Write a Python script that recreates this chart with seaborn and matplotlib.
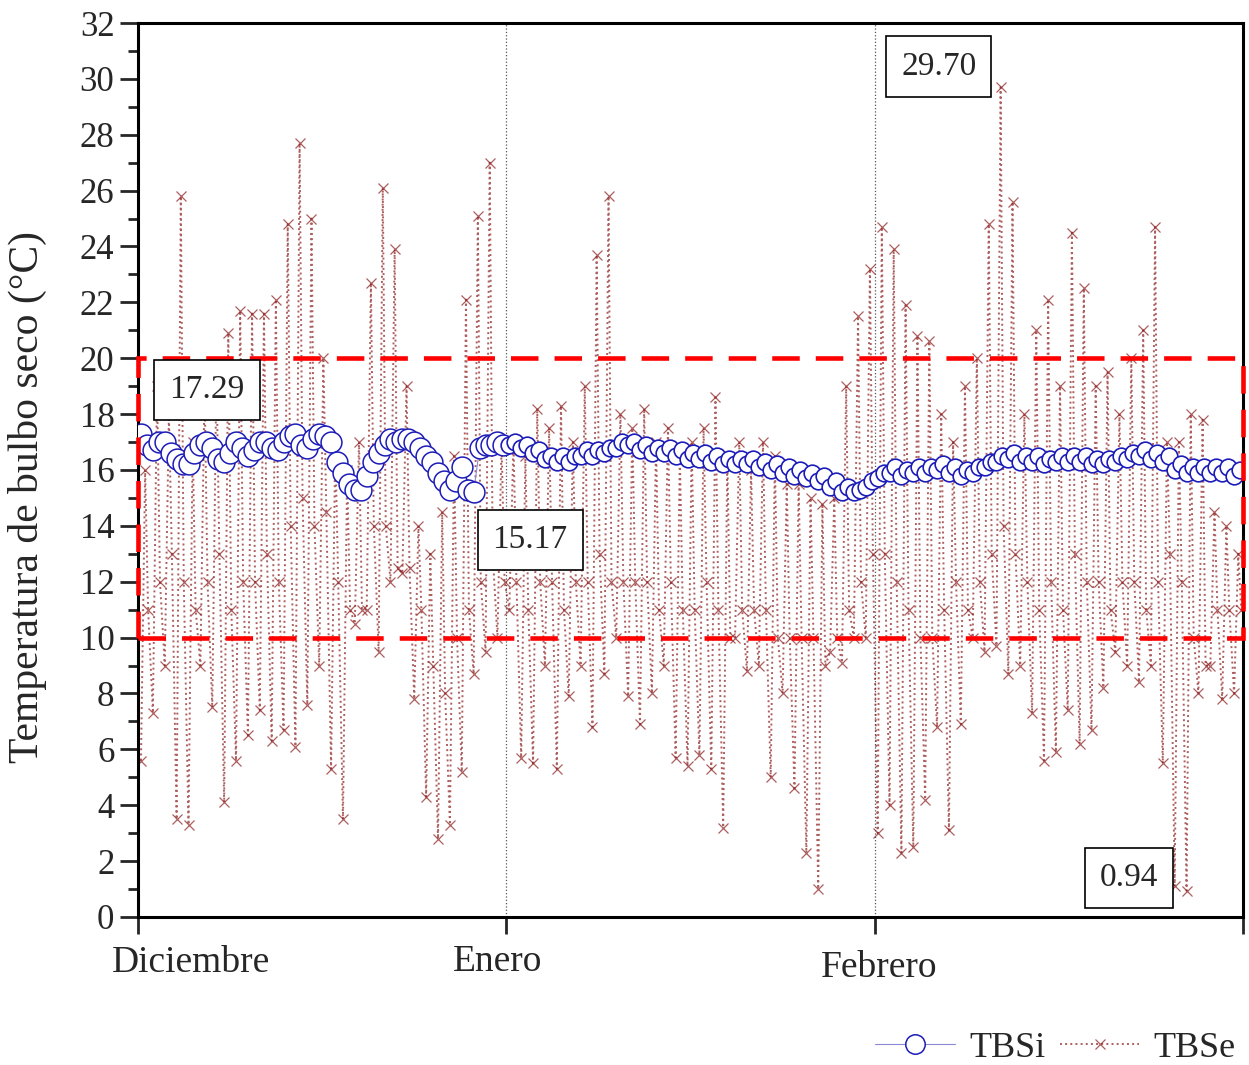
import numpy as np
import seaborn as sns
import matplotlib.pyplot as plt
from matplotlib.lines import Line2D
from matplotlib.patches import Rectangle
from matplotlib.ticker import MultipleLocator

# ---- data (x in days since 1 Dec) ----
months = ["Diciembre", "Enero", "Febrero"]
month_start = [0, 31, 62]
x_end = 93
comfort_low = 10
comfort_high = 20

# outdoor dry-bulb (TBSe): morning minimum, afternoon maximum, evening reading per day
tbse_min = [5.6, 7.3, 9.0, 3.5, 3.3, 9.0, 7.5, 4.1, 5.6, 6.5, 7.4, 6.3, 6.7, 6.1, 7.6, 9.0,
            5.3, 3.5, 10.5, 11.0, 9.5, 12.0, 12.3, 7.8, 4.3, 2.8, 3.3, 5.2, 8.7, 9.5, 10.0,
            11.0, 5.7, 5.5, 9.0, 5.3, 7.9, 9.0, 6.8, 8.7, 10.0, 7.9, 6.9, 8.0, 9.0, 5.7, 5.4,
            5.8, 5.3, 3.2, 10.0, 8.8, 9.0, 5.0, 8.0, 4.6, 2.3, 1.0, 9.5, 9.1, 10.0, 10.0,
            3.0, 4.0, 2.3, 2.5, 4.2, 6.8, 3.1, 6.9, 10.0, 9.5, 9.7, 8.7, 9.0, 7.3, 5.6, 5.9,
            7.4, 6.2, 6.7, 8.2, 9.5, 9.0, 8.4, 9.0, 5.5, 1.1, 0.94, 8.0, 9.0, 7.8, 8.0]
tbse_max = [16.0, 19.0, 18.0, 25.8, 17.0, 19.0, 19.5, 20.9, 21.7, 21.6, 21.6, 22.1, 24.8, 27.7,
            25.0, 20.0, 17.0, 16.0, 17.0, 22.7, 26.1, 23.9, 19.0, 14.0, 13.0, 14.5, 16.5, 22.1,
            25.1, 27.0, 17.0,
            17.0, 16.5, 18.2, 17.5, 18.3, 17.0, 19.0, 23.7, 25.8, 18.0, 17.5, 18.2, 17.0, 17.5,
            16.5, 17.0, 17.5, 18.6, 16.5, 17.0, 16.0, 17.0, 16.5, 15.5, 15.5, 15.0, 14.8, 15.0,
            19.0, 21.5, 23.2,
            24.7, 23.9, 21.9, 20.8, 20.6, 18.0, 17.0, 19.0, 20.0, 24.8, 29.7, 25.6, 18.0, 21.0,
            22.1, 19.0, 24.5, 22.5, 19.0, 19.5, 18.0, 20.0, 21.0, 24.7, 17.0, 17.0, 18.0, 17.8,
            14.5, 14.0, 13.0]
tbse_eve = [11, 12, 13, 12, 11, 12, 13, 11, 12, 12, 13, 12, 14, 15, 14, 14.5, 12, 11, 11, 14,
            14, 12.5, 12.5, 11, 9, 8, 10, 11, 12, 13, 12,
            12, 11, 12, 12, 11, 12, 12, 13, 12, 12, 12, 12, 11, 12, 11, 11, 12, 11, 10, 11, 11,
            11, 10, 10, 10, 10, 9, 10, 11, 12, 13,
            13, 12, 11, 10, 10, 11, 12, 11, 12, 13, 14, 13, 12, 11, 12, 11, 13, 12, 12, 11, 12,
            12, 11, 12, 13, 12, 10, 9, 11, 11, 11]

# indoor dry-bulb (TBSi): two readings per day
tbsi_dic = [17.3, 16.9, 16.7, 17.0, 17.0, 16.6, 16.4, 16.2, 16.2, 16.6, 16.9, 17.0, 16.8, 16.4,
            16.3, 16.6, 17.0, 16.8, 16.5, 16.7, 17.0, 17.0, 16.8, 16.7, 17.0, 17.2, 17.3, 16.9,
            16.8, 17.1, 17.3, 17.2, 17.0, 16.3, 15.9, 15.5, 15.3, 15.3, 15.8, 16.3, 16.6, 16.9,
            17.1, 17.0, 17.1, 17.1, 17.0, 16.8, 16.5, 16.3, 15.9, 15.6, 15.3, 15.6, 16.1, 15.3,
            15.2, 16.8, 16.9, 16.9, 17.0, 16.9]
tbsi_enefeb = [16.9, 17.0, 16.8, 16.9, 16.6, 16.7, 16.4, 16.5, 16.3, 16.5, 16.3, 16.5, 16.5, 16.7,
               16.5, 16.7, 16.6, 16.8, 16.8, 17.0, 16.9, 17.0, 16.7, 16.9, 16.6, 16.8, 16.6, 16.8,
               16.5, 16.7, 16.4, 16.6, 16.4, 16.6, 16.3, 16.5, 16.2, 16.4, 16.2, 16.4, 16.2, 16.4,
               16.1, 16.3, 16.0, 16.2, 15.9, 16.1, 15.8, 16.0, 15.7, 15.9, 15.6, 15.8, 15.4, 15.6,
               15.2, 15.4, 15.2, 15.3, 15.4, 15.6,
               15.7, 15.9, 15.9, 16.1, 15.8, 16.0, 15.9, 16.1, 15.9, 16.1, 16.0, 16.2, 15.9, 16.1,
               15.8, 16.0, 15.9, 16.1, 16.1, 16.3, 16.3, 16.5, 16.4, 16.6, 16.3, 16.5, 16.3, 16.5,
               16.2, 16.4, 16.3, 16.5, 16.3, 16.5, 16.3, 16.5, 16.2, 16.4, 16.2, 16.4, 16.3, 16.5,
               16.4, 16.6, 16.5, 16.7, 16.4, 16.6, 16.3, 16.5, 16.0, 16.2, 15.9, 16.1, 15.9, 16.1,
               15.9, 16.1, 15.9, 16.1, 15.8, 16.0]

boxed_values = ["17.29", "15.17", "29.70", "0.94"]

ylabel = "Temperatura de bulbo seco (°C)"


def main():
    sns.set_style("ticks")
    plt.rcParams["font.family"] = ["Liberation Serif", "DejaVu Serif"]

    fig = plt.figure(figsize=(12.49, 10.65), dpi=100)
    ax = fig.add_axes([0.1105, 0.139, 0.8847, 0.8394])

    red_brown = "#8b1a1a"
    blue = "#1c1cb8"
    light_blue = "#8a8ad6"

    # TBSe: time axis built from the day index
    days = np.arange(len(tbse_max))
    t_e = np.column_stack([days + 0.25, days + 0.6, days + 0.85]).ravel()
    v_e = np.column_stack([tbse_min, tbse_max, tbse_eve]).ravel()
    sns.lineplot(x=t_e, y=v_e, ax=ax, sort=False, estimator=None, color=red_brown,
                 linestyle=":", linewidth=1.4, marker="x", markersize=7,
                 markeredgecolor=red_brown, markeredgewidth=0.9, alpha=0.7, zorder=2)

    # TBSi
    d_dic = np.arange(len(tbsi_dic) // 2)
    t_dic = np.column_stack([d_dic + 0.25, d_dic + 0.75]).ravel()
    sns.lineplot(x=t_dic, y=tbsi_dic, ax=ax, sort=False, estimator=None, color=light_blue,
                 linewidth=0.8, marker="o", markersize=15, markerfacecolor="white",
                 markeredgecolor=blue, markeredgewidth=1.1, zorder=3)
    d_ef = np.arange(len(tbsi_enefeb) // 2) + 31
    t_ef = np.column_stack([d_ef + 0.25, d_ef + 0.75]).ravel()
    sns.lineplot(x=t_ef, y=tbsi_enefeb, ax=ax, sort=False, estimator=None, color=light_blue,
                 linewidth=0.8, marker="o", markersize=12, markerfacecolor="white",
                 markeredgecolor=blue, markeredgewidth=1.2, zorder=3)

    # month separators
    for m in month_start[1:]:
        ax.axvline(m, color="#555555", linestyle=":", linewidth=0.9, zorder=1)

    # comfort band
    ax.add_patch(Rectangle((0, comfort_low), x_end, comfort_high - comfort_low, fill=False,
                           edgecolor="red", linewidth=3.3, linestyle=(0, (6, 3.5)),
                           zorder=5, clip_on=False))

    # boxed extreme values
    box = dict(boxstyle="square,pad=0.45", facecolor="white", edgecolor="black", linewidth=1.2)
    ann_pos = [(5.8, 18.86), (33.0, 13.5), (67.4, 30.45), (83.4, 1.4)]
    for txt, (x, y) in zip(boxed_values, ann_pos):
        ax.text(x, y, txt, ha="center", va="center", fontsize=24, bbox=box, zorder=6)

    ax.set_xlim(0, x_end)
    ax.set_ylim(0, 32)
    ax.yaxis.set_major_locator(MultipleLocator(2))
    ax.yaxis.set_minor_locator(MultipleLocator(1))
    ax.set_xticks(month_start + [x_end])
    ax.set_xticklabels([])
    ax.tick_params(axis="y", which="major", length=13, width=2, labelsize=25, pad=4)
    ax.tick_params(axis="y", which="minor", length=7, width=2)
    ax.tick_params(axis="x", which="major", length=12, width=2)
    for s in ax.spines.values():
        s.set_linewidth(2.2)
        s.set_color("black")

    # month labels
    trans = ax.get_xaxis_transform()
    label_pos = [(4.5, -0.051), (30.25, -0.050), (62.4, -0.057)]
    for name, (x, y) in zip(months, label_pos):
        ax.text(x, y, name, transform=trans, ha="center", va="center", fontsize=27)

    ax.set_ylabel(ylabel, fontsize=30, labelpad=10)
    ax.yaxis.set_label_coords(-0.082, 0.47)
    ax.set_xlabel("")

    handles = [
        Line2D([], [], color=light_blue, linewidth=0.8, marker="o", markersize=14,
               markerfacecolor="white", markeredgecolor=blue, markeredgewidth=1.1),
        Line2D([], [], color=red_brown, linestyle=":", linewidth=1.4, marker="x",
               markersize=7, markeredgecolor=red_brown, markeredgewidth=0.9, alpha=0.7),
    ]
    fig.legend(handles, ["TBSi", "TBSe"], loc="center right", bbox_to_anchor=(1.004, 0.016),
               ncol=2, frameon=False, fontsize=26, handlelength=2.2, handletextpad=0.4,
               columnspacing=0.4, borderaxespad=0.1)

    fig.savefig("out.png", dpi=100)
    plt.close(fig)


if __name__ == "__main__":
    main()
